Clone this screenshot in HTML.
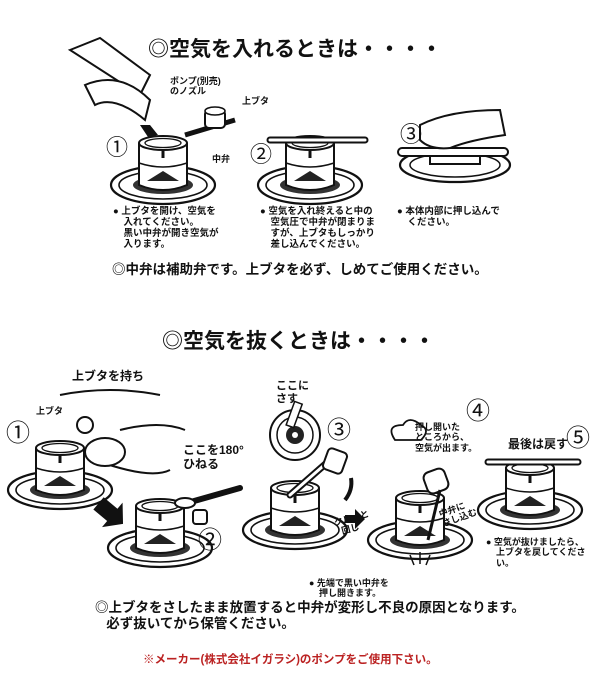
<!DOCTYPE html>
<html><head><meta charset="utf-8">
<style>
body{margin:0;background:#fff;}
#c{position:relative;width:600px;height:680px;overflow:hidden;font-family:"Liberation Sans","Noto Sans CJK JP",sans-serif;font-weight:bold;color:#111;}
.t{position:absolute;white-space:nowrap;line-height:1.15;}
svg{position:absolute;left:0;top:0;}
</style></head><body><div id="c">
<svg width="600" height="680" viewBox="0 0 600 680">
<defs>
<g id="v">
<ellipse cx="0" cy="20" rx="52" ry="19" fill="#fff" stroke="#111" stroke-width="2.2"/>
<ellipse cx="0" cy="20" rx="44" ry="14" fill="none" stroke="#111" stroke-width="1.6"/>
<ellipse cx="0" cy="20" rx="30" ry="9" fill="#333"/>
<path d="M-24 -22 L-24 20 Q0 30 24 20 L24 -22" fill="#fff" stroke="#111" stroke-width="2"/>
<path d="M-24 -2 Q0 6 24 -2" fill="none" stroke="#111" stroke-width="1.5"/>
<rect x="-1.5" y="-14" width="3" height="7" fill="#111"/>
<path d="M-16 16 L0 6 L16 16 Z" fill="#222"/>
<ellipse cx="0" cy="-22" rx="24" ry="7" fill="#fff" stroke="#111" stroke-width="2"/>
<ellipse cx="0" cy="-22" rx="18" ry="4.5" fill="none" stroke="#111" stroke-width="1.3"/>
</g>
</defs>
<use href="#v" x="163" y="165"/>
<use href="#v" x="310" y="165"/>
<g>
<ellipse cx="455" cy="165" rx="55" ry="17" fill="#fff" stroke="#111" stroke-width="2.2"/>
<ellipse cx="455" cy="165" rx="45" ry="12" fill="none" stroke="#111" stroke-width="1.5"/>
<rect x="430" y="150" width="50" height="14" fill="#fff" stroke="#111" stroke-width="2"/>
<rect x="398" y="148" width="110" height="8" rx="4" fill="#fff" stroke="#111" stroke-width="2"/>
<path d="M420 125 Q450 110 500 110 L505 135 Q470 140 450 148 Q430 150 420 140Z" fill="#fff" stroke="#111" stroke-width="2"/>
</g>
<path d="M70 50 L100 38 L150 75 L140 95 Z" fill="#fff" stroke="#111" stroke-width="2"/>
<path d="M85 85 Q120 70 150 100 L145 120 Q115 95 95 105 Z" fill="#fff" stroke="#111" stroke-width="2"/>
<path d="M150 125 l8 10 l-10 2 l-8 -12z" fill="#111"/>
<path d="M185 135 L235 120" stroke="#111" stroke-width="5" fill="none"/>
<rect x="205" y="110" width="20" height="18" rx="4" fill="#fff" stroke="#111" stroke-width="2"/>
<ellipse cx="215" cy="111" rx="10" ry="4" fill="#fff" stroke="#111" stroke-width="1.6"/>
<path d="M270 140 L365 140" stroke="#111" stroke-width="7" stroke-linecap="round"/>
<path d="M270 140 L365 140" stroke="#fff" stroke-width="3" stroke-linecap="round"/>
<use href="#v" x="60" y="470"/>
<use href="#v" x="160" y="528"/>
<use href="#v" x="295" y="510"/>
<use href="#v" x="420" y="520"/>
<use href="#v" x="530" y="490"/>
<path d="M60 395 Q110 385 160 395 M120 430 Q160 420 185 430 M95 460 Q150 480 170 470" fill="none" stroke="#111" stroke-width="2"/>
<ellipse cx="105" cy="452" rx="20" ry="14" fill="#fff" stroke="#111" stroke-width="2"/>
<circle cx="85" cy="425" r="8" fill="#fff" stroke="#111" stroke-width="2"/>
<path d="M95 505 l18 0 l0 -8 l14 16 l-14 16 l0 -8 l-18 0z" fill="#111" transform="rotate(40 110 513)"/>
<path d="M180 505 L240 488" stroke="#111" stroke-width="6" stroke-linecap="round"/>
<ellipse cx="185" cy="503" rx="10" ry="5" fill="#fff" stroke="#111" stroke-width="2"/>
<rect x="193" y="510" width="14" height="14" rx="3" fill="#fff" stroke="#111" stroke-width="2"/>
<circle cx="295" cy="435" r="25" fill="#fff" stroke="#111" stroke-width="2"/>
<circle cx="295" cy="435" r="18" fill="none" stroke="#111" stroke-width="1.5"/>
<circle cx="295" cy="435" r="9" fill="#222"/>
<circle cx="295" cy="435" r="3" fill="#fff"/>
<rect x="290" y="402" width="8" height="25" fill="#fff" stroke="#111" stroke-width="1.5" transform="rotate(20 294 415)"/>
<path d="M290 495 L330 460" stroke="#111" stroke-width="7" stroke-linecap="round"/>
<path d="M290 495 L330 460" stroke="#fff" stroke-width="3" stroke-linecap="round"/>
<rect x="325" y="450" width="20" height="22" rx="4" fill="#fff" stroke="#111" stroke-width="2" transform="rotate(20 335 461)"/>
<path d="M345 500 q8 -10 6 -22" fill="none" stroke="#111" stroke-width="4"/>
<path d="M345 515 l10 0 l0 -6 l10 10 l-10 10 l0 -6 l-10 0z" fill="#111"/>
<path d="M395 440 q-10 -15 8 -15 q6 -10 18 0 q10 5 0 15 z" fill="#fff" stroke="#111" stroke-width="1.8"/>
<rect x="425" y="470" width="22" height="22" rx="6" fill="#fff" stroke="#111" stroke-width="2" transform="rotate(-20 436 481)"/>
<path d="M440 490 L428 540" stroke="#111" stroke-width="3"/>
<path d="M410 555 l4 10 M420 552 l0 12 M430 555 l-4 10" stroke="#111" stroke-width="1.5"/>
<path d="M488 462 L578 462" stroke="#111" stroke-width="7" stroke-linecap="round"/>
<path d="M488 462 L578 462" stroke="#fff" stroke-width="3" stroke-linecap="round"/>
</svg>

<div class="t" style="top:38px;font-size:21px;left:148px">◎空気を入れるときは・・・・</div>
<div class="t" style="left:170px;top:76px;font-size:9px">ポンプ(別売)<br>のノズル</div>
<div class="t" style="left:242px;top:96px;font-size:9px">上ブタ</div>
<div class="t" style="left:212px;top:154px;font-size:9px">中弁</div>
<div class="t" style="left:106px;top:135px;font-size:22px;font-weight:normal">①</div>
<div class="t" style="left:250px;top:142px;font-size:22px;font-weight:normal">②</div>
<div class="t" style="left:400px;top:122px;font-size:22px;font-weight:normal">③</div>
<div class="t" style="left:113px;top:207px;font-size:9.5px">●&nbsp;上ブタを開け、空気を<br>&nbsp;&nbsp;&nbsp;&nbsp;入れてください。<br>&nbsp;&nbsp;&nbsp;&nbsp;黒い中弁が開き空気が<br>&nbsp;&nbsp;&nbsp;&nbsp;入ります。</div>
<div class="t" style="left:260px;top:207px;font-size:9.5px">●&nbsp;空気を入れ終えると中の<br>&nbsp;&nbsp;&nbsp;&nbsp;空気圧で中弁が閉まりま<br>&nbsp;&nbsp;&nbsp;&nbsp;すが、上ブタもしっかり<br>&nbsp;&nbsp;&nbsp;&nbsp;差し込んでください。</div>
<div class="t" style="left:397px;top:207px;font-size:9.5px">●&nbsp;本体内部に押し込んで<br>&nbsp;&nbsp;&nbsp;&nbsp;ください。</div>
<div class="t" style="left:112px;top:262px;font-size:13.5px">◎中弁は補助弁です。上ブタを必ず、しめてご使用ください。</div>

<div class="t" style="left:162px;top:330px;font-size:21px">◎空気を抜くときは・・・・</div>
<div class="t" style="left:72px;top:370px;font-size:12px">上ブタを持ち</div>
<div class="t" style="left:36px;top:406px;font-size:9px">上ブタ</div>
<div class="t" style="left:6px;top:420px;font-size:24px;font-weight:normal">①</div>
<div class="t" style="left:183px;top:444px;font-size:12px">ここを180°<br>ひねる</div>
<div class="t" style="left:198px;top:527px;font-size:24px;font-weight:normal">②</div>
<div class="t" style="left:276px;top:380px;font-size:11px">ここに<br>さす</div>
<div class="t" style="left:327px;top:417px;font-size:24px;font-weight:normal">③</div>
<div class="t" style="left:335px;top:513px;font-size:9px;transform:rotate(-15deg)">クルッと<br>&nbsp;&nbsp;回し</div>
<div class="t" style="left:415px;top:422px;font-size:9px">押し開いた<br>ところから、<br>空気が出ます。</div>
<div class="t" style="left:466px;top:398px;font-size:24px;font-weight:normal">④</div>
<div class="t" style="left:440px;top:503px;font-size:9px;transform:rotate(-20deg)">中弁に<br>さし込む</div>
<div class="t" style="left:508px;top:438px;font-size:12px">最後は戻す</div>
<div class="t" style="left:566px;top:425px;font-size:24px;font-weight:normal">⑤</div>
<div class="t" style="left:309px;top:578px;font-size:9px">●&nbsp;先端で黒い中弁を<br>&nbsp;&nbsp;&nbsp;&nbsp;押し開きます。</div>
<div class="t" style="left:486px;top:537px;font-size:9px">●&nbsp;空気が抜けましたら、<br>&nbsp;&nbsp;&nbsp;&nbsp;上ブタを戻してくださ<br>&nbsp;&nbsp;&nbsp;&nbsp;い。</div>

<div class="t" style="left:95px;top:600px;font-size:13.5px">◎上ブタをさしたまま放置すると中弁が変形し不良の原因となります。<br>&nbsp;&nbsp;&nbsp;必ず抜いてから保管ください。</div>
<div class="t" style="left:143px;top:654px;font-size:11.5px;color:#b22;">※メーカー(株式会社イガラシ)のポンプをご使用下さい。</div>
</div></body></html>
